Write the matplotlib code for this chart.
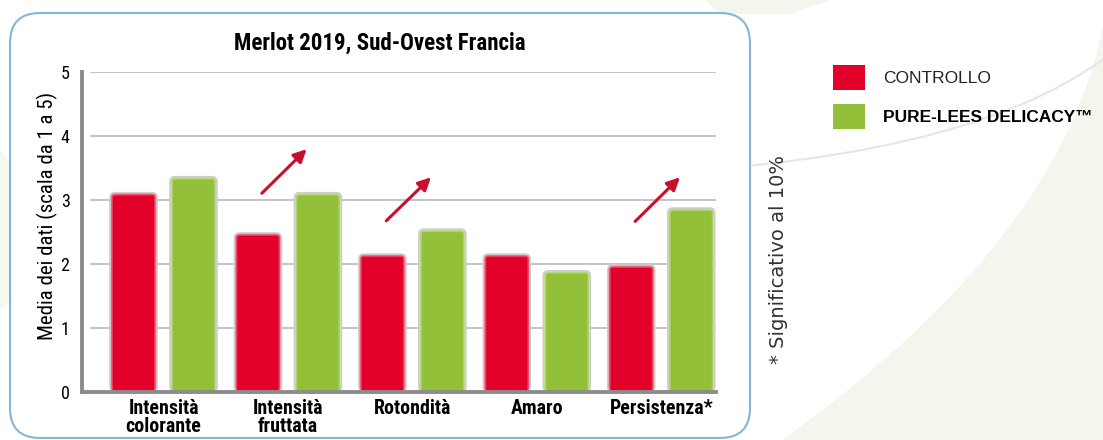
import numpy as np
import matplotlib
matplotlib.use("Agg")
import matplotlib.pyplot as plt
from matplotlib import font_manager
from matplotlib.patches import FancyBboxPatch, Patch, PathPatch
from matplotlib.path import Path

# ── Data ──────────────────────────────────────────────────────────────────────
categories  = ["Intensità\ncolorante", "Intensità\nfruttata", "Rotondità",
               "Amaro", "Persistenza*"]
controllo   = [3.11, 2.48, 2.15, 2.15, 1.98]
pure_lees   = [3.36, 3.11, 2.54, 1.89, 2.87]
series_names = ["CONTROLLO", "PURE-LEES DELICACY™"]
y_ticks     = [0, 1, 2, 3, 4, 5]

# arrows marking the increases (category index, tail y, head y)
arrow_idx    = [1, 2, 4]
arrow_tail_y = [3.10, 2.67, 2.66]
arrow_head_y = [3.79, 3.35, 3.35]

title = "Merlot 2019, Sud-Ovest Francia"
ylabel = "Media dei dati (scala da 1 a 5)"
note = "* Significativo al 10%"

# ── Style ─────────────────────────────────────────────────────────────────────
RED   = "#e2002a"
GREEN = "#92c038"
ARROW = "#c8102e"

names = {f.name for f in font_manager.fontManager.ttflist}
NARROW = [n for n in ["Roboto Condensed", "Archivo Narrow", "Liberation Sans Narrow"]
          if n in names][:1] + ["Liberation Sans", "DejaVu Sans"]
REG = ["Liberation Sans", "DejaVu Sans"]
plt.rcParams["font.family"] = REG

W, H = 1103, 440
fig = plt.figure(figsize=(W / 100, H / 100), dpi=100)

# ── Background (decorations + rounded box) in pixel coords ───────────────────
bg = fig.add_axes([0, 0, 1, 1], zorder=-1)
bg.set_xlim(0, W)
bg.set_ylim(H, 0)
bg.axis("off")

green_shape = Path([(1108, -5), (1080, 230), (775, 445), (1108, 445), (1108, -5)],
                   [Path.MOVETO, Path.CURVE3, Path.CURVE3, Path.LINETO, Path.CLOSEPOLY])
bg.add_patch(PathPatch(green_shape, fc="#f3f6ec", ec="none"))
bg.add_patch(plt.Polygon([(0, 150), (12, 165), (12, 300), (0, 310)], fc="#f5f8ef", ec="none"))
bg.add_patch(plt.Polygon([(705, 0), (830, 0), (790, 14), (720, 14)], fc="#f3f6ec", ec="none"))
arc = Path([(600, 175), (960, 165), (1105, 58)], [Path.MOVETO, Path.CURVE3, Path.CURVE3])
bg.add_patch(PathPatch(arc, fc="none", ec="#e6e6e6", lw=1.5))

bg.add_patch(FancyBboxPatch((10, 13), 740, 425,
                            boxstyle="round,pad=0,rounding_size=30",
                            fc="white", ec="#86b5da", lw=1.5))

# ── Main axes ─────────────────────────────────────────────────────────────────
ax_l, ax_r, ax_t, ax_b = 82, 716, 71.7, 391.7
ax = fig.add_axes([ax_l / W, 1 - ax_b / H, (ax_r - ax_l) / W, (ax_b - ax_t) / H], zorder=1)
ax.patch.set_alpha(0)
ax.set_xlim(-0.655, 4.44)
ax.set_ylim(0, 5)

x = np.arange(len(categories))
bw, off = 0.378, 0.241

px_x = (ax_r - ax_l) / (4.44 + 0.655)
px_y = (ax_b - ax_t) / 5
aspect = px_x / px_y


def tint(c, f):
    rgb = np.array(matplotlib.colors.to_rgb(c))
    return tuple(rgb + (1 - rgb) * f)


def soft_bars(rects, color):
    # rounded bars with a soft, lighter rim like the original artwork
    for r in rects:
        x0, y0 = r.get_xy()
        w, h = r.get_width(), r.get_height()
        r.set_visible(False)
        layers = [(0.0, tint(color, 0.55), "#cccccc", 1.1),
                  (1.5, tint(color, 0.25), "none", 0),
                  (3.0, color, "none", 0)]
        for inset, fc, ec, lw in layers:
            dx, dy = inset / px_x, inset / px_y
            rad = max(5 - inset, 1.5) / px_x
            ax.add_patch(FancyBboxPatch((x0 + dx, y0 + dy * 0.3), w - 2 * dx, h - dy * 1.3,
                                        boxstyle=f"round,pad=0,rounding_size={rad}",
                                        mutation_aspect=aspect, fc=fc, ec=ec, lw=lw,
                                        zorder=3))


soft_bars(ax.bar(x - off, controllo, bw), RED)
soft_bars(ax.bar(x + off, pure_lees, bw), GREEN)

for yv in y_ticks[1:]:
    ax.axhline(yv, xmin=9 / (ax_r - ax_l), color="#c4c4c4", lw=1.4, zorder=1)

for i, ty, hy in zip(arrow_idx, arrow_tail_y, arrow_head_y):
    ax.annotate("", xy=(i + 0.15, hy), xytext=(i - 0.21, ty),
                arrowprops=dict(arrowstyle="-|>", color=ARROW, lw=2.2,
                                mutation_scale=19, shrinkA=0, shrinkB=0),
                zorder=4)

for s in ["top", "right"]:
    ax.spines[s].set_visible(False)
ax.spines["left"].set_color("#8c8c8c")
ax.spines["left"].set_linewidth(2.8)
ax.spines["bottom"].set_color("#8c8c8c")
ax.spines["bottom"].set_linewidth(2.8)
ax.spines["bottom"].set_zorder(5)

ax.set_yticks(y_ticks)
ax.set_yticklabels([str(v) for v in y_ticks], fontfamily=NARROW, fontsize=13)
ax.set_xticks(x)
ax.set_xticklabels(categories, fontfamily=NARROW, fontweight="bold",
                   fontsize=14.3, linespacing=0.98)
ax.tick_params(axis="both", length=0)
ax.tick_params(axis="y", pad=9)
ax.tick_params(axis="x", pad=5)

ax.set_ylabel(ylabel, fontfamily=NARROW, fontsize=15)
ax.yaxis.set_label_coords(-0.038, 0.55)

fig.text(380 / W, 1 - 43 / H, title, ha="center", va="center",
         fontfamily=NARROW, fontweight="bold", fontsize=16.5)

# ── Legend and note ───────────────────────────────────────────────────────────
handles = [Patch(fc=RED, ec="none"), Patch(fc=GREEN, ec="none")]
leg = fig.legend(handles, series_names, loc="upper left",
                 bbox_to_anchor=(833 / W, 1 - 65 / H), frameon=False,
                 fontsize=12.5, handlelength=1.84, handleheight=1.84,
                 handletextpad=1.05, labelspacing=0.8, borderpad=0,
                 borderaxespad=0)
leg.get_texts()[0].set_color("#222222")
leg.get_texts()[1].set_fontweight("bold")

fig.text(778 / W, 1 - 259 / H, note, rotation=90, ha="center", va="center",
         fontsize=14, color="#333333", family=["DejaVu Sans"])

fig.savefig("out.png", dpi=100)
